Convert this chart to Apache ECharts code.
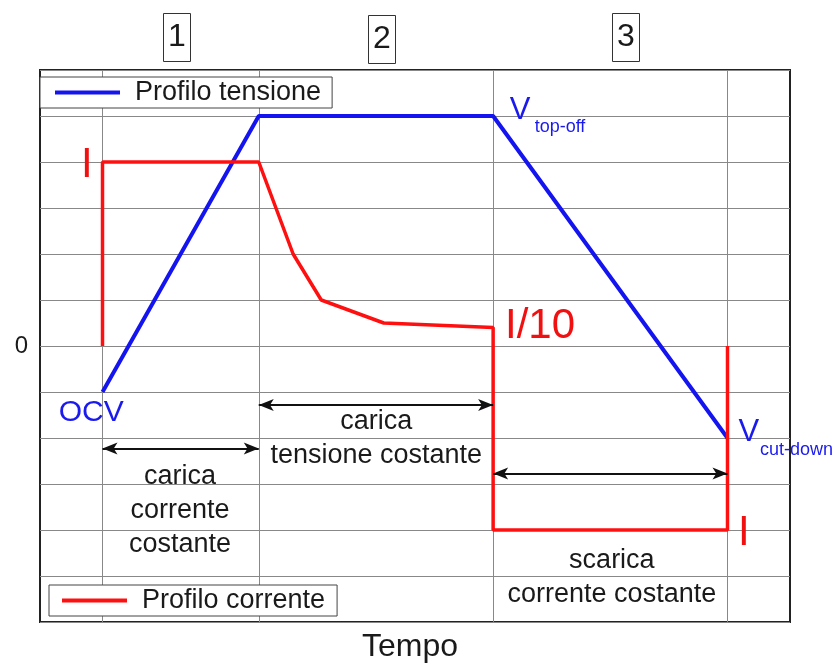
<!DOCTYPE html>
<html lang="it">
<head>
<meta charset="UTF-8">
<title>Profilo di carica</title>
<script src="https://cdn.jsdelivr.net/npm/echarts@6/dist/echarts.min.js"></script>
<style>
    body { margin: 0; background: #fff; }
    #chart { width: 835px; height: 668px; }
</style>
</head>
<body>
<div id="chart"></div>
<script>
    // dati (tempo in unita arbitrarie, asse y con 0 al centro)
    var tensione = [[1, -1], [3.5, 5], [7.25, 5], [11, -2]];
    var corrente = [[1, 0], [1, 4], [3.5, 4], [4.05, 2], [4.5, 1], [5.5, 0.5], [7.25, 0.4], [7.25, -4], [11, -4], [11, 0]];
    var fasiX = [1, 3.5, 7.25, 11];
    var fasiNomi = ['1', '2', '3'];
    // frecce doppie: [da, a, y]
    var frecce = [[1, 3.5, -2.23], [3.5, 7.25, -1.28], [7.25, 11, -2.77]];

    var FONT = "'Liberation Sans', Arial, sans-serif";

    // etichette testuali: [x, y, testo, colore, dimensione, allineamento]
    var etichette = [
        [0.82, -1.46, 'OCV', '#1a1aee', 30, 'center'],
        [7.68, 5.12, 'V', '#1a1aee', 31, 'center'],
        [8.32, 4.76, 'top-off', '#1a1aee', 18, 'center'],
        [11.34, -1.88, 'V', '#1a1aee', 31, 'center'],
        [11.52, -2.27, 'cut-down', '#1a1aee', 18, 'left'],
        [0.75, 3.93, 'I', '#f01010', 42, 'center'],
        [11.26, -4.08, 'I', '#f01010', 42, 'center'],
        [8.0, 0.42, 'I/10', '#f01010', 42, 'center'],
        [5.38, -2.02, 'carica\ntensione costante', '#1a1a1a', 27, 'center'],
        [2.24, -3.57, 'carica\ncorrente\ncostante', '#1a1a1a', 27, 'center'],
        [9.15, -5.03, 'scarica\ncorrente costante', '#1a1a1a', 27, 'center']
    ];

    var chart = echarts.init(document.getElementById('chart'));

    var titoli = fasiNomi.map(function (n, i) {
        var lefts = [163, 368, 612];
        var tops = [13, 15, 13];
        return {
            text: n,
            left: lefts[i],
            top: tops[i],
            padding: [7, 5],
            borderColor: '#333',
            borderWidth: 1,
            textStyle: { fontSize: 32, fontWeight: 'normal', color: '#1a1a1a', lineHeight: 35, fontFamily: FONT }
        };
    });

    var option = {
        backgroundColor: '#fff',
        animation: false,
        textStyle: { fontFamily: FONT },
        title: titoli,
        legend: [
            {
                data: ['Profilo tensione'],
                left: 40, top: 77,
                icon: 'rect', itemWidth: 65, itemHeight: 4,
                padding: [2, 11, 2, 15],
                backgroundColor: '#fff',
                borderColor: '#444', borderWidth: 1,
                textStyle: { fontSize: 27, color: '#1a1a1a', padding: [0, 0, 0, 10], fontFamily: FONT }
            },
            {
                data: ['Profilo corrente'],
                left: 49, top: 585,
                icon: 'rect', itemWidth: 65, itemHeight: 4,
                padding: [2, 12, 2, 13],
                backgroundColor: '#fff',
                borderColor: '#444', borderWidth: 1,
                textStyle: { fontSize: 27, color: '#1a1a1a', padding: [0, 0, 0, 10], fontFamily: FONT }
            }
        ],
        grid: {
            left: 40, right: 45, top: 70, bottom: 41,
            show: true, borderColor: '#222', borderWidth: 2
        },
        xAxis: {
            type: 'value', min: 0, max: 12,
            name: 'Tempo', nameLocation: 'middle', nameGap: 9,
            nameTextStyle: { fontSize: 32, color: '#1a1a1a', fontFamily: FONT, padding: [0, 10, 0, 0] },
            axisLine: { show: false }, axisTick: { show: false },
            axisLabel: { show: false }, splitLine: { show: false }
        },
        yAxis: {
            type: 'value', min: -6, max: 6, interval: 1,
            axisLine: { show: false }, axisTick: { show: false },
            axisLabel: {
                fontSize: 24, color: '#1a1a1a', margin: 12,
                formatter: function (v) { return v === 0 ? '0' : ''; }
            },
            splitLine: { lineStyle: { color: '#888', width: 1 } }
        },
        series: [
            {
                name: 'griglia', type: 'line', data: [], silent: true, z: 1,
                markLine: {
                    silent: true, symbol: 'none', label: { show: false }, z: 1,
                    lineStyle: { color: '#888', width: 1, type: 'solid' },
                    data: fasiX.map(function (x) { return { xAxis: x }; })
                }
            },
            {
                name: 'frecce', type: 'line', data: [], silent: true, z: 2,
                markLine: {
                    silent: true, symbol: ['arrow', 'arrow'], symbolSize: [9, 15],
                    label: { show: false },
                    lineStyle: { color: '#111', width: 2, type: 'solid' },
                    data: frecce.map(function (f) {
                        return [{ coord: [f[0], f[2]] }, { coord: [f[1], f[2]] }];
                    })
                }
            },
            {
                name: 'Profilo tensione', type: 'line', data: tensione,
                showSymbol: false, color: '#1414f0',
                lineStyle: { width: 4, color: '#1414f0' }, z: 3
            },
            {
                name: 'Profilo corrente', type: 'line', data: corrente,
                showSymbol: false, color: '#ff1010',
                lineStyle: { width: 3.5, color: '#ff1010' }, z: 3
            },
            {
                name: 'etichette', type: 'scatter', symbolSize: 0, silent: true, z: 5,
                itemStyle: { opacity: 1 },
                data: etichette.map(function (e) {
                    return {
                        value: [e[0], e[1]],
                        label: {
                            show: true, position: 'inside', opacity: 1,
                            formatter: e[2], color: e[3], fontSize: e[4],
                            align: e[5], verticalAlign: 'middle',
                            lineHeight: Math.round(e[4] * 1.25),
                            fontFamily: FONT
                        }
                    };
                })
            }
        ]
    };

    chart.setOption(option);
</script>
</body>
</html>
